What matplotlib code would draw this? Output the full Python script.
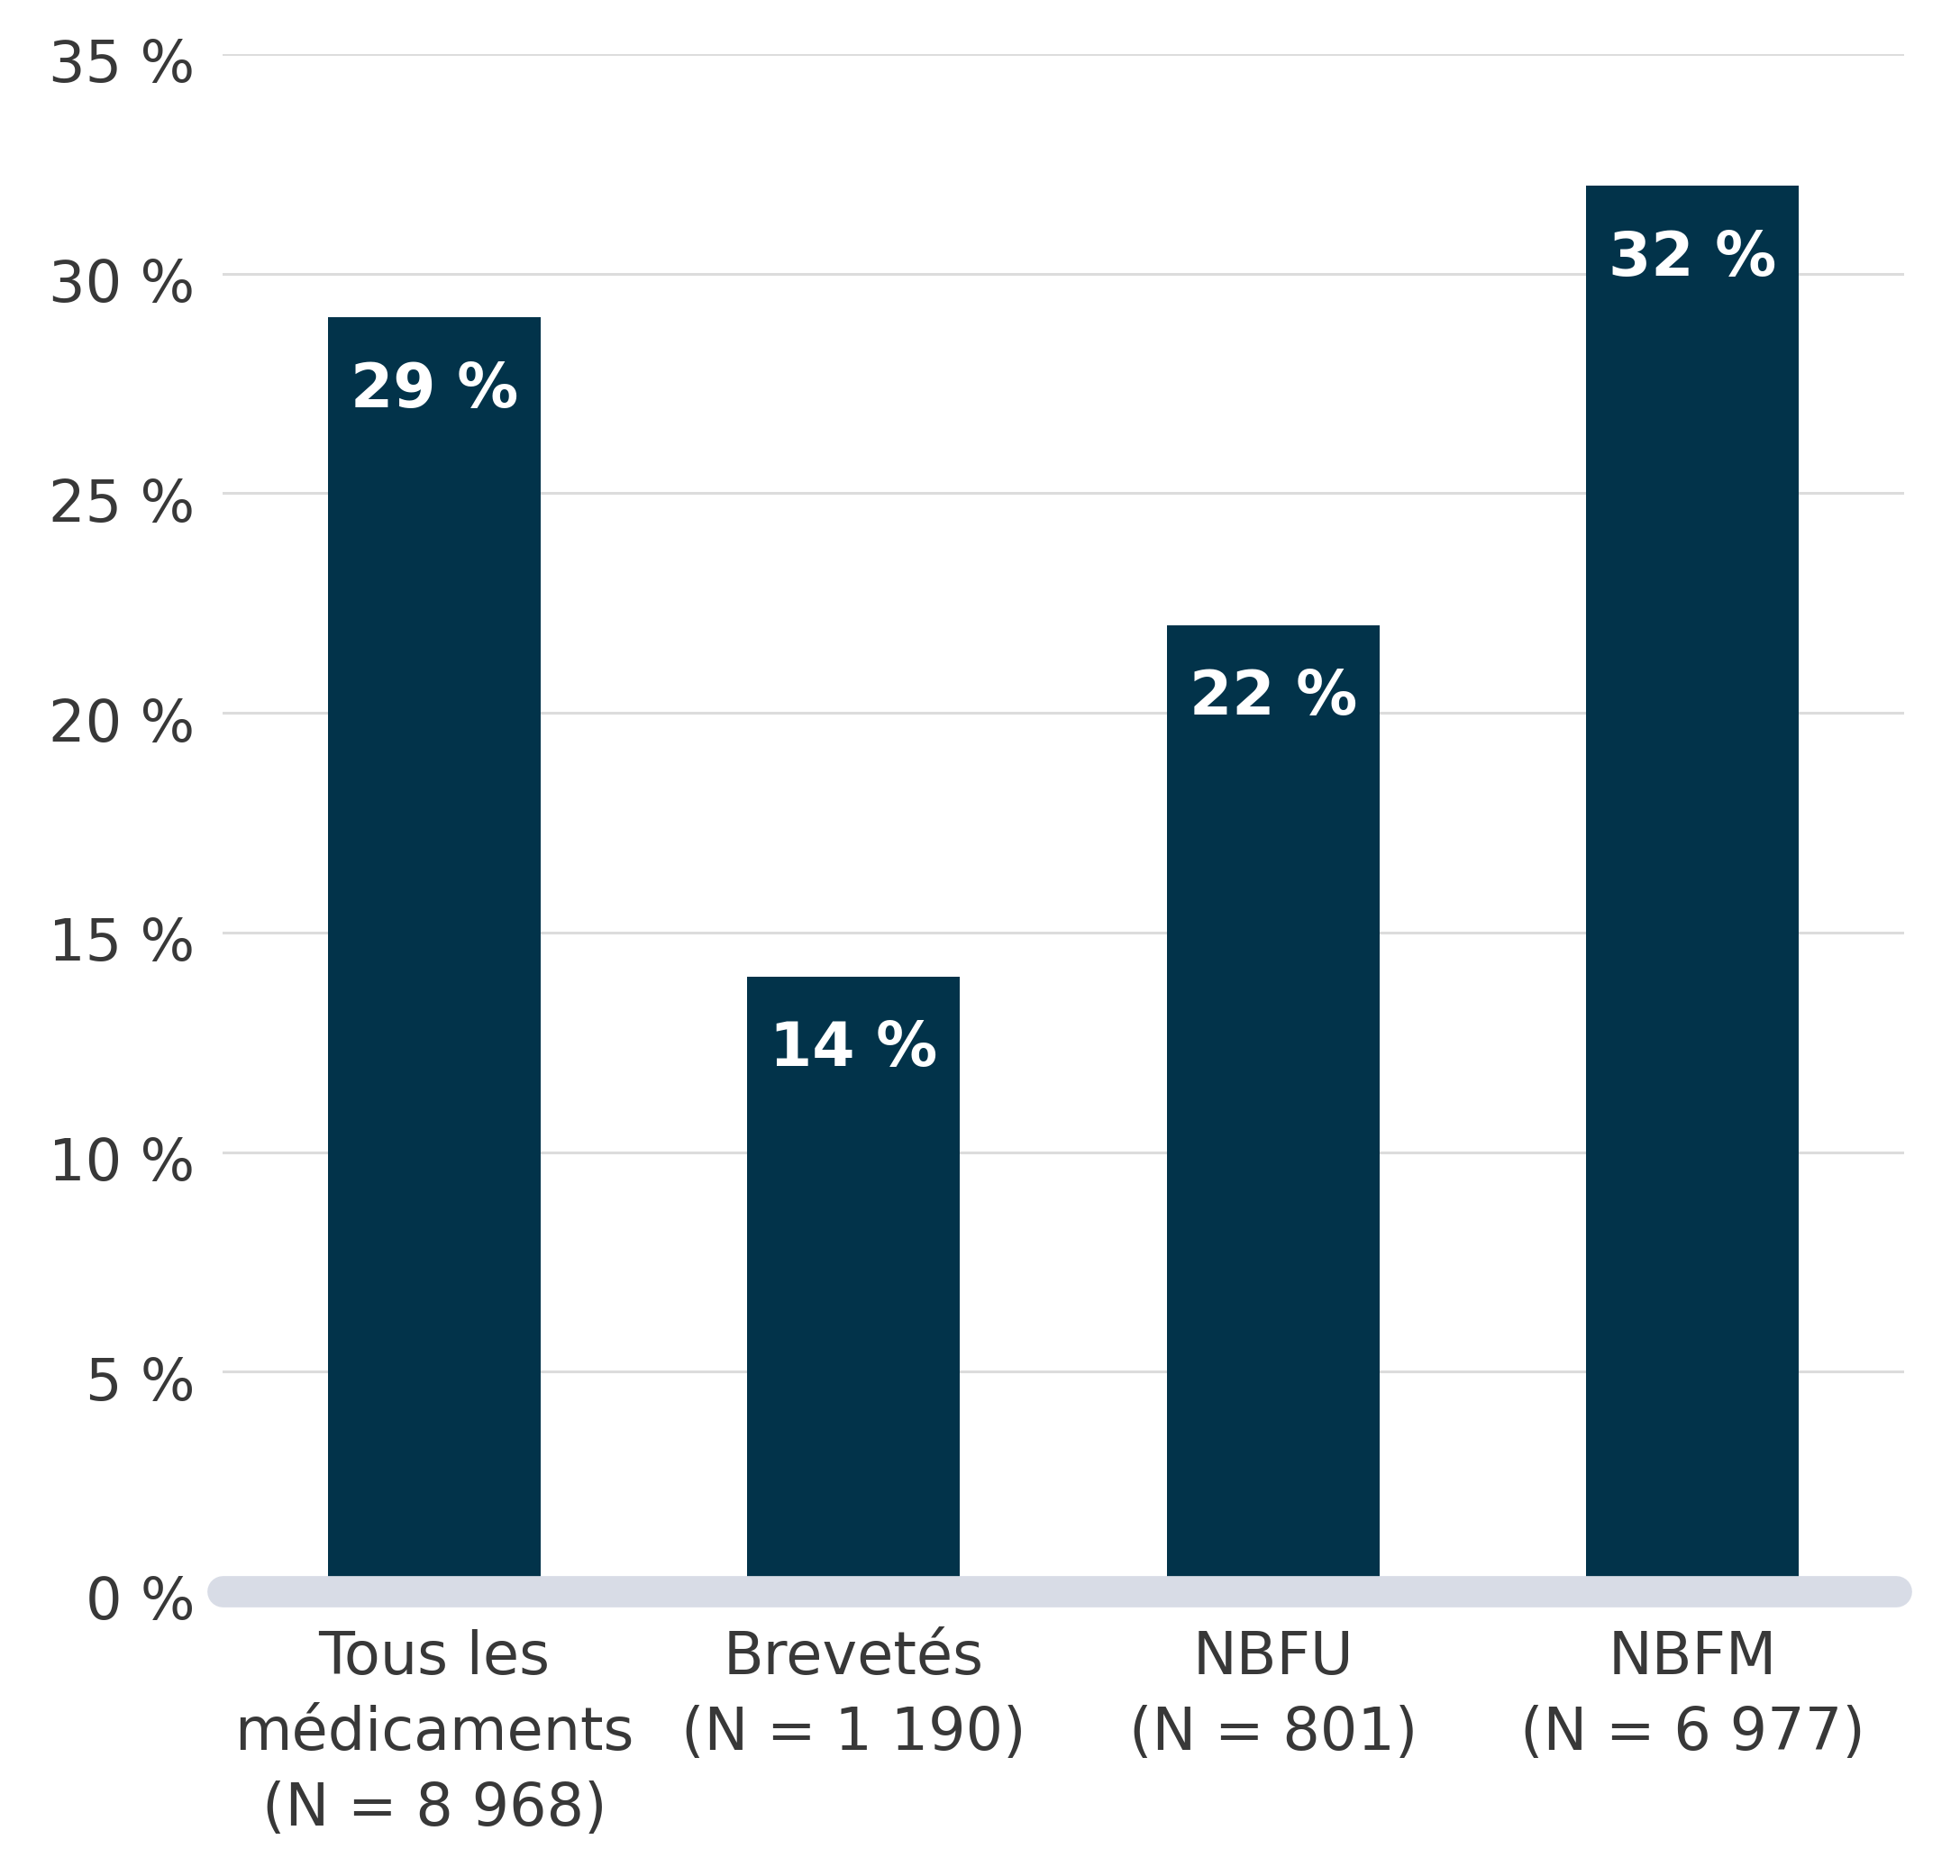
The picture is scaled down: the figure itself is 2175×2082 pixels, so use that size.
import matplotlib.pyplot as plt
import matplotlib.transforms as mtransforms
import numpy as np

# Valeurs
categories = ['Tous les\nmédicaments\n(N = 8 968)', 'Brevetés\n(N = 1 190)',
              'NBFU\n(N = 801)', 'NBFM\n(N = 6 977)']
valeurs = [29, 14, 22, 32]
yticks = [0, 5, 10, 15, 20, 25, 30, 35]

plt.rcParams['font.family'] = ['DejaVu Sans']

fig = plt.figure(figsize=(21.75, 20.82), dpi=100)
ax = fig.add_axes([0.1136, 0.1518, 0.858, 0.8194])

x = np.arange(len(categories))
ax.bar(x, valeurs, width=0.507, color='#02334a', zorder=2)

for xi, v in zip(x, valeurs):
    ax.text(xi, v - 1.65, '{} %'.format(v), ha='center', va='center',
            color='white', fontsize=49, fontweight='bold', zorder=3)

# bande grise de l'axe 0
ax.axhline(0, xmin=0.0, xmax=0.995, color='#d8dce6', linewidth=25,
           solid_capstyle='round', zorder=4, clip_on=False)

ax.set_xlim(-0.505, 3.505)
ax.set_ylim(0, 35)
ax.set_yticks(yticks)
ax.set_yticklabels(['{} %'.format(t) for t in yticks])
ax.set_xticks(x)
ax.set_xticklabels(categories, linespacing=1.40)
ax.yaxis.grid(True, color='#dcdcdc', linewidth=2.2, zorder=0)
ax.set_axisbelow(True)
ax.tick_params(axis='y', length=0, pad=22, labelsize=46, labelcolor='#383838')
ax.tick_params(axis='x', length=0, pad=30, labelsize=47, labelcolor='#383838')
for s in ax.spines.values():
    s.set_visible(False)

# les étiquettes de l'axe y sont un peu sous les lignes
decal = mtransforms.ScaledTranslation(0, -5 / 72, fig.dpi_scale_trans)
for lab in ax.get_yticklabels():
    lab.set_transform(lab.get_transform() + decal)

fig.savefig('out.png', dpi=100, facecolor='white')
